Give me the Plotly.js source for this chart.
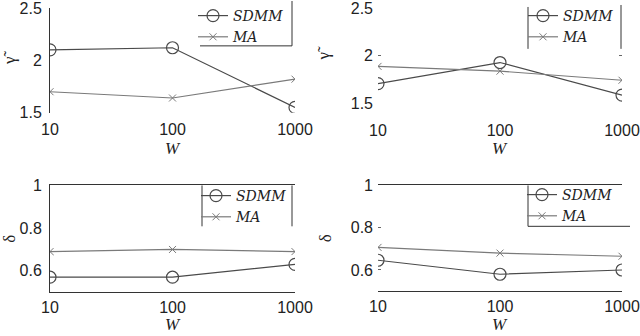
<!DOCTYPE html>
<html><head><meta charset="utf-8">
<script src="https://cdn.plot.ly/plotly-3.0.1.min.js"></script>
<style>html,body{margin:0;padding:0;background:#fff}#c{width:640px;height:336px}</style>
</head><body><div id="c"></div>
<script>
var W = [10, 100, 1000];
var tickLabelsX = ['10', '100', '1000'];
// gamma (top) panels
var gammaSDMM_L = [2.10, 2.12, 1.55];
var gammaMA_L   = [1.70, 1.64, 1.82];
var gammaSDMM_R = [1.71, 1.93, 1.59];
var gammaMA_R   = [1.89, 1.84, 1.745];
// delta (bottom) panels
var deltaSDMM_L = [0.57, 0.57, 0.63];
var deltaMA_L   = [0.69, 0.70, 0.69];
var deltaSDMM_R = [0.646, 0.58, 0.60];
var deltaMA_R   = [0.707, 0.68, 0.665];
var gammaTicks = [1.5, 2, 2.5];
var deltaTicks = [0.6, 0.8, 1];
var xTitle = '<i>W</i>';

var cS = '#4a4a4a', cM = '#7a7a7a';
function sd(y, xa, ya, lg) {
  return {x: W, y: y, xaxis: xa, yaxis: ya, legend: lg, name: 'SDMM', mode: 'lines+markers',
    line: {color: cS, width: 1.2}, marker: {symbol: 'circle-open', size: 12, color: cS, line: {width: 1.2, color: cS}}};
}
function ma(y, xa, ya, lg) {
  return {x: W, y: y, xaxis: xa, yaxis: ya, legend: lg, name: 'MA', mode: 'lines+markers',
    line: {color: cM, width: 1.2}, marker: {symbol: 'x-thin-open', size: 7, color: cM, line: {width: 1, color: cM}}};
}
var data = [
  sd(gammaSDMM_L, 'x', 'y', 'legend'), ma(gammaMA_L, 'x', 'y', 'legend'),
  sd(gammaSDMM_R, 'x2', 'y2', 'legend2'), ma(gammaMA_R, 'x2', 'y2', 'legend2'),
  sd(deltaSDMM_L, 'x3', 'y3', 'legend3'), ma(deltaMA_L, 'x3', 'y3', 'legend3'),
  sd(deltaSDMM_R, 'x4', 'y4', 'legend4'), ma(deltaMA_R, 'x4', 'y4', 'legend4')
];
var tf = {family: 'Liberation Sans, Arial', size: 16, color: '#222'};
var titleFont = {family: 'Liberation Serif', size: 17, color: '#222'};
function xax(dom, anchor, standoff, extra) {
  var a = {type: 'log', range: [1, 3], domain: dom, anchor: anchor, tickvals: W, ticktext: tickLabelsX,
    showgrid: false, zeroline: false, showline: false, ticks: '', tickfont: tf, ticklabelstandoff: standoff,
    ticklabeloverflow: 'allow'};
  for (var k in extra) a[k] = extra[k];
  return a;
}
function yax(dom, anchor, range, tv, extra) {
  var a = {range: range, domain: dom, anchor: anchor, tickvals: tv, showgrid: false, zeroline: false,
    showline: false, ticks: '', tickfont: tf, ticklabelstandoff: 4, ticklabeloverflow: 'allow'};
  for (var k in extra) a[k] = extra[k];
  return a;
}
var lgFont = {family: 'DejaVu Serif', size: 14, style: 'italic', color: '#222'};
function lg(x, y) {
  return {x: x, y: y, xanchor: 'left', yanchor: 'top', bgcolor: 'rgba(255,255,255,0)', borderwidth: 0,
    font: lgFont, tracegroupgap: 0, itemwidth: 30};
}
var xL = [50/640, 295/640], xR = [378/640, 622/640];
var lc = '#333';
function wAnn(xref, ypx) {
  return {text: xTitle, xref: xref, x: 0.5, yref: 'paper', y: 1 - ypx/336, xanchor: 'center', yanchor: 'middle',
    showarrow: false, font: titleFont};
}
var layout = {
  width: 640, height: 336, margin: {l: 0, r: 0, t: 0, b: 0},
  paper_bgcolor: '#fff', plot_bgcolor: 'rgba(0,0,0,0)', showlegend: true,
  xaxis: xax(xL, 'y', 5, {}),
  yaxis: yax([1-112/336, 1-7/336], 'x', [1.5, 2.5], gammaTicks,
    {showline: true, linecolor: lc, linewidth: 1, title: {text: 'γ̃', font: titleFont, standoff: 14}}),
  xaxis2: xax(xR, 'y2', 15, {}),
  yaxis2: yax([1-103/336, 1-7/336], 'x2', [1.5, 2.5], gammaTicks,
    {ticks: 'inside', ticklen: 3, tickcolor: '#666', mirror: 'ticks', title: {text: 'γ̃', font: titleFont, standoff: 16}}),
  xaxis3: xax(xL, 'y3', 1, {showline: true, mirror: true, linecolor: lc, linewidth: 1}),
  yaxis3: yax([1-292/336, 1-185/336], 'x3', [0.5, 1], deltaTicks,
    {showline: true, linecolor: lc, linewidth: 1, title: {text: 'δ', font: titleFont, standoff: 12}}),
  xaxis4: xax(xR, 'y4', 1, {showline: true, mirror: true, linecolor: lc, linewidth: 1}),
  yaxis4: yax([1-291/336, 1-185/336], 'x4', [0.5, 1], deltaTicks,
    {ticks: 'inside', ticklen: 3, tickcolor: '#666', title: {text: 'δ', font: titleFont, standoff: 14}}),
  legend: lg(193/640, 1+1/336),
  legend2: lg(523/640, 1+1/336),
  legend3: lg(196/640, 1-180/336),
  legend4: lg(522/640, 1-179/336),
  annotations: [wAnn('x domain', 148), wAnn('x2 domain', 148), wAnn('x3 domain', 324), wAnn('x4 domain', 324)],
  shapes: [
    {type: 'line', xref: 'x', yref: 'y domain', x0: 2, x1: 2, y0: 0, y1: 1, line: {color: '#cfcfcf', width: 1}, layer: 'below'},
    {type: 'line', xref: 'x3', yref: 'y3 domain', x0: 2, x1: 2, y0: 0, y1: 1, line: {color: '#cfcfcf', width: 1}, layer: 'below'},
    // legend box edges
    {type: 'line', xref: 'paper', yref: 'paper', x0: 292/640, x1: 292/640, y0: 1, y1: 1-45/336, line: {color: lc, width: 1}},
    {type: 'line', xref: 'paper', yref: 'paper', x0: 200/640, x1: 292/640, y0: 1-45/336, y1: 1-45/336, line: {color: lc, width: 1}},
    {type: 'line', xref: 'paper', yref: 'paper', x0: 528/640, x1: 528/640, y0: 1-6/336, y1: 1-48/336, line: {color: lc, width: 1}},
    {type: 'line', xref: 'paper', yref: 'paper', x0: 621/640, x1: 621/640, y0: 1-4/336, y1: 1-48/336, line: {color: lc, width: 1}},
    {type: 'line', xref: 'paper', yref: 'paper', x0: 202/640, x1: 202/640, y0: 1-185/336, y1: 1-226/336, line: {color: lc, width: 1}},
    {type: 'line', xref: 'paper', yref: 'paper', x0: 292/640, x1: 292/640, y0: 1-185/336, y1: 1-226/336, line: {color: lc, width: 1}},
    {type: 'line', xref: 'paper', yref: 'paper', x0: 528/640, x1: 528/640, y0: 1-185/336, y1: 1-226/336, line: {color: lc, width: 1}},
    {type: 'line', xref: 'paper', yref: 'paper', x0: 528/640, x1: 630/640, y0: 1-226/336, y1: 1-226/336, line: {color: lc, width: 1}}
  ]
};
Plotly.newPlot('c', data, layout, {staticPlot: true});
</script></body></html>
